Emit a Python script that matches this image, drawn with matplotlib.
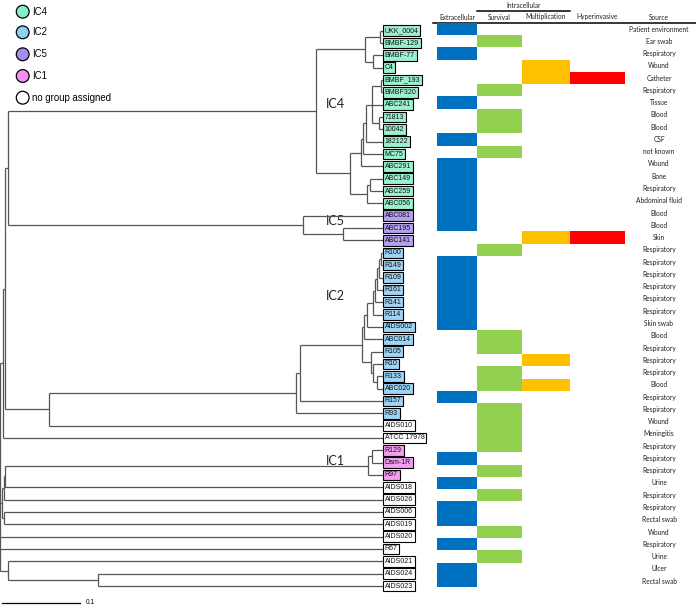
import matplotlib
matplotlib.use("Agg")
import matplotlib.pyplot as plt
from matplotlib.patches import Circle

# ---------------- data ----------------
strains = ["UKK_0004", "BMBF-129", "BMBF-77", "C4", "BMBF_193", "BMBF320", "ABC241",
           "71813", "10042", "182122", "MC75", "ABC291", "ABC149", "ABC259", "ABC056",
           "ABC081", "ABC195", "ABC141", "R100", "R149", "R109", "R161", "R141", "R114",
           "AIDS002", "ABC014", "R105", "R10", "R133", "ABC020", "R157", "R93", "AIDS010",
           "ATCC 17978", "R129", "Dam-1R", "R97", "AIDS018", "AIDS026", "AIDS006",
           "AIDS019", "AIDS020", "R67", "AIDS021", "AIDS024", "AIDS023"]

groups = (["IC4"] * 15 + ["IC5"] * 3 + ["IC2"] * 14 + ["none"] * 2 +
          ["IC1"] * 3 + ["none"] * 9)

sources = ["Patient environment", "Ear swab", "Respiratory", "Wound", "Catheter",
           "Respiratory", "Tissue", "Blood", "Blood", "CSF", "not known", "Wound", "Bone",
           "Respiratory", "Abdominal fluid", "Blood", "Blood", "Skin", "Respiratory",
           "Respiratory", "Respiratory", "Respiratory", "Respiratory", "Respiratory",
           "Skin swab", "Blood", "Respiratory", "Respiratory", "Respiratory", "Blood",
           "Respiratory", "Respiratory", "Wound", "Meningitis", "Respiratory",
           "Respiratory", "Respiratory", "Urine", "Respiratory", "Respiratory",
           "Rectal swab", "Wound", "Respiratory", "Urine", "Ulcer", "Rectal swab"]

extracellular = [1,0,1,0,0,0,1,0,0,1,0,1,1,1,1,1,1,0,0,1,1,1,1,1,1,0,0,0,0,0,1,0,0,0,0,1,0,1,0,1,1,0,1,0,1,1]
survival      = [0,1,0,0,0,1,0,1,1,0,1,0,0,0,0,0,0,0,1,0,0,0,0,0,0,1,1,0,1,1,0,1,1,1,1,0,1,0,1,0,0,1,0,1,0,0]
multiplication= [0,0,0,1,1,0,0,0,0,0,0,0,0,0,0,0,0,1,0,0,0,0,0,0,0,0,0,1,0,1,0,0,0,0,0,0,0,0,0,0,0,0,0,0,0,0]
hyperinvasive = [0,0,0,0,1,0,0,0,0,0,0,0,0,0,0,0,0,1,0,0,0,0,0,0,0,0,0,0,0,0,0,0,0,0,0,0,0,0,0,0,0,0,0,0,0,0]

trait_names = ["Extracellular", "Survival", "Multiplication", "Hyperinvasive"]

# tree: (node depth in substitutions/site, [children]); leaves are strain names
tree = (0.0006, [
    (0.0038, [
        (0.0064, [
            (0.0103, [
                (0.4051, [
                    (0.4679, [
                        (0.4872, ["UKK_0004", "BMBF-129"]),
                        (0.4782, ["BMBF-77", "C4"]),
                    ]),
                    (0.4487, [
                        (0.4628, [
                            (0.4654, [
                                (0.4692, [
                                    (0.4769, [
                                        (0.4885, ["BMBF_193", "BMBF320"]),
                                        "ABC241",
                                        (0.4859, ["71813", "10042"]),
                                    ]),
                                    "182122",
                                ]),
                                "MC75",
                            ]),
                            "ABC291",
                        ]),
                        (0.4705, [
                            (0.4744, ["ABC149", "ABC259"]),
                            "ABC056",
                        ]),
                    ]),
                ]),
                (0.3885, [
                    "ABC081",
                    (0.4397, ["ABC195", "ABC141"]),
                ]),
            ]),
            (0.0628, [
                (0.3795, [
                    (0.3846, [
                        (0.4641, [
                            (0.4667, [
                                (0.4701, [
                                    (0.4778, [
                                        (0.4808, [
                                            (0.4833, [
                                                (0.4859, [
                                                    (0.4885, ["R100", "R149"]),
                                                    "R109"]),
                                                "R161"]),
                                            "R141"]),
                                        "R114"]),
                                    "AIDS002"]),
                                "ABC014"]),
                            (0.4756, [
                                "R105",
                                (0.4778, ["R10", (0.4829, ["R133", "ABC020"])]),
                            ]),
                        ]),
                        "R157",
                    ]),
                    "R93",
                ]),
                "AIDS010",
            ]),
        ]),
        "ATCC 17978",
    ]),
    (0.0026, [
        (0.0051, [
            (0.0064, [
                (0.4718, [
                    (0.4769, ["R129", "Dam-1R"]),
                    "R97",
                ]),
                "AIDS018",
            ]),
            "AIDS026",
        ]),
        (0.0051, ["AIDS006", "AIDS019"]),
    ]),
    "AIDS020",
    "R67",
    (0.0103, [
        "AIDS021",
        (0.1256, ["AIDS024", "AIDS023"]),
    ]),
])

scale_value = 0.1

# ---------------- style ----------------
W, H = 696, 608
PX_PER_UNIT = 780.0
TIP_PX = 383
label_fill = {"IC4": "#9CF0CF", "IC2": "#9DD3F5", "IC5": "#B3A0F0", "IC1": "#F59DF1", "none": "white"}
legend_fill = {"IC4": "#86F0C6", "IC2": "#8FCFF6", "IC5": "#A68CF2", "IC1": "#F78CF2", "none": "white"}
trait_colors = ["#0070C0", "#92D050", "#FFC000", "#FF0000"]
col_left = [437, 477, 522, 570]
col_width = [40, 45, 48, 55]
line_col = "#555555"

fig = plt.figure(figsize=(W / 100, H / 100), dpi=100)

ax_px = fig.add_axes([0, 0, 1, 1])
ax_px.set_xlim(0, W); ax_px.set_ylim(H, 0); ax_px.axis("off")

# tree axes: x in substitutions, y in rows
t_row0, t_step = 30.7, 12.34
ax_t = fig.add_axes([0, 0, 1, 1])
ax_t.set_xlim(0, W / PX_PER_UNIT)
ax_t.set_ylim((H - t_row0) / t_step, -t_row0 / t_step)
ax_t.axis("off")

# heatmap axes: x in pixels, y in rows
h_row0, h_step = 29.0, 12.27
ax_h = fig.add_axes([0, 0, 1, 1])
ax_h.set_xlim(0, W)
ax_h.set_ylim((H - h_row0) / h_step, -h_row0 / h_step)
ax_h.axis("off")

tip_x = TIP_PX / PX_PER_UNIT
counter = [0]
lw = 0.9


def draw(node, parent_x):
    if isinstance(node, str):
        y = counter[0]
        counter[0] += 1
        ax_t.plot([parent_x, tip_x], [y, y], color=line_col, lw=lw, solid_capstyle="butt")
        return y
    x, kids = node
    ys = [draw(k, x) for k in kids]
    ax_t.plot([x, x], [min(ys), max(ys)], color=line_col, lw=lw, solid_capstyle="butt")
    y = (ys[0] + ys[-1]) / 2
    if parent_x is not None:
        ax_t.plot([parent_x, x], [y, y], color=line_col, lw=lw, solid_capstyle="butt")
    return y


draw(tree, None)

# leaf labels
for i, (s, g) in enumerate(zip(strains, groups)):
    ax_t.text(tip_x + 1.8 / PX_PER_UNIT, i, s, fontsize=5.0, family="Liberation Sans",
              ha="left", va="center", color="#111111",
              bbox=dict(boxstyle="square,pad=0.26", fc=label_fill[g], ec="black", lw=0.8))

# group labels
for name, (gx, gy) in {"IC4": (326, 104), "IC5": (326, 221), "IC2": (326, 296), "IC1": (326, 461)}.items():
    ax_px.text(gx, gy, name, fontsize=9, family="Lato", ha="left", va="center", color="#222222")

# heatmap
traits = [extracellular, survival, multiplication, hyperinvasive]
for j, vals in enumerate(traits):
    rows = [i for i, v in enumerate(vals) if v]
    ax_h.barh(rows, col_width[j], left=col_left[j], height=1.0, color=trait_colors[j], lw=0)

for i, s in enumerate(sources):
    ax_h.text(659, i, s, fontsize=4.8, family="Lato", ha="center", va="center", color="#222222")

# headers
hdr_font = dict(fontsize=4.8, family="Lato", ha="center", va="center", color="#222222")
for j, t in enumerate(trait_names):
    ax_px.text(col_left[j] + col_width[j] / 2, 17, t, **hdr_font)
ax_px.text(659, 17, "Source", **hdr_font)
ax_px.text(524, 5, "Intracellular", **hdr_font)
ax_px.plot([433, 697], [22.5, 22.5], color="black", lw=1.1)
ax_px.plot([477, 570], [10.8, 10.8], color="black", lw=1.1)

# legend
for (g, lab), ly in zip([("IC4", "IC4"), ("IC2", "IC2"), ("IC5", "IC5"), ("IC1", "IC1"),
                         ("none", "no group assigned")], [11.7, 32.3, 54.3, 76.0, 97.7]):
    ax_px.add_patch(Circle((22.7, ly), 6.4, fc=legend_fill[g], ec="black", lw=0.9))
    ax_px.text(32.5, ly, lab, fontsize=6.9, family="Liberation Sans", ha="left", va="center")

# scale bar
sb_y = (603 - t_row0) / t_step
ax_t.plot([0.0026, 0.0026 + scale_value], [sb_y, sb_y], color="black", lw=0.9)
ax_t.text(0.0026 + scale_value + 6 / PX_PER_UNIT, sb_y, "0.1", fontsize=4.8,
          family="Liberation Sans", ha="left", va="center")

fig.savefig("out.png", dpi=100)
